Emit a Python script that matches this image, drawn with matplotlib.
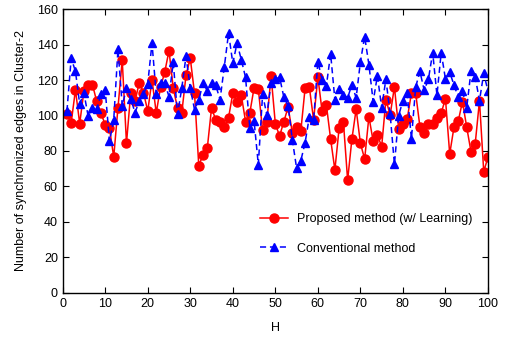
import matplotlib

matplotlib.use("Agg")

import matplotlib.pyplot as plt
import numpy as np

H = np.arange(1, 101)

proposed = [
    101, 96, 114.5, 95.5, 114, 117.5, 117.5, 108, 101.5, 94.7,
    92.9, 76.6, 104.5, 131.3, 84.4, 112.8, 108, 118.6, 113, 102.5,
    120.2, 101.5, 116, 124.6, 136.7, 115.5, 104.2, 101.5, 122.7, 132.4,
    112.5, 71.7, 77.8, 81.6, 104.2, 97.6, 96.3, 93.6, 98.8, 112.7,
    107.9, 111.5, 96.6, 101.5, 115.7, 115, 91.7, 96.6, 122.5, 95.3,
    88.5, 96.6, 104.7, 90.4, 93.8, 91.5, 115.5, 116, 97.6, 121.7,
    102.3, 106, 86.7, 69.3, 92.9, 96.6, 63.5, 86.7, 103.6, 84.4,
    75.4, 99.4, 85.5, 89.1, 82.5, 108.9, 100.4, 116.2, 92.6, 95,
    98, 112.7, 112.6, 93.6, 90.4, 95.5, 95.5, 98.5, 101.5, 109.5,
    78.3, 93.4, 96.8, 107.9, 93.4, 79.7, 84.2, 108.4, 68.4, 76.5,
]

conventional = [
    102.5, 132.4, 125, 106.5, 112.7, 99.5, 104.5, 103.5, 112, 114.5,
    85.4, 97.6, 137.5, 105.5, 115.5, 109.6, 101.7, 108, 112, 118,
    140.9, 112, 118.5, 118.3, 110.7, 130, 100.7, 115.5, 133.5, 115.5,
    103.4, 108.7, 118.5, 114, 118.5, 117, 109, 127.5, 146.5, 129.6,
    140.9, 131.5, 121.5, 92.9, 97, 72.3, 112, 100.4, 118.3, 120.6,
    121.7, 110.4, 105.5, 86.3, 70.3, 74.6, 84.7, 99.4, 97.6, 130.5,
    120.2, 116.8, 134.9, 108.9, 115, 111.7, 110, 117.5, 110, 130.3,
    144.6, 128.8, 107.9, 122.5, 104.5, 120.6, 100.7, 72.4, 100, 108.5,
    112.5, 86.9, 116.2, 124.9, 114.3, 120.6, 135.6, 111.5, 135.6, 120.6,
    124.5, 117.3, 110.4, 113.9, 104.5, 124.9, 121.7, 108.4, 123.8, 113.9,
]

plt.rcParams["font.family"] = ["Liberation Sans", "DejaVu Sans"]

fig = plt.figure(figsize=(5.08, 3.37), dpi=100)
ax = fig.add_axes([0.1234, 0.1315, 0.8372, 0.8409])

ax.plot(H, proposed, color="#ff0000", lw=1.1, marker="o", ms=6.5,
        label="Proposed method (w/ Learning)")
ax.plot(H, conventional, color="#0000ff", lw=1.1, ls=(0, (4, 2.5)), marker="^", ms=6,
        label="Conventional method")

ax.set_xlim(0, 100)
ax.set_ylim(0, 160)
ax.set_xticks(np.arange(0, 101, 10))
ax.set_yticks(np.arange(0, 161, 20))
ax.tick_params(direction="in", length=4, width=0.8, top=True, right=True, labelsize=9)
for s in ax.spines.values():
    s.set_linewidth(1.0)

ax.set_xlabel("H", fontsize=9, labelpad=9)
ax.set_ylabel("Number of synchronized edges in Cluster-2", fontsize=9, labelpad=7)

ax.legend(loc="lower right", bbox_to_anchor=(0.99, 0.095), frameon=False, fontsize=9,
          handlelength=2.3, handletextpad=0.7, numpoints=1, labelspacing=1.4)

fig.savefig("out.png", dpi=100)
